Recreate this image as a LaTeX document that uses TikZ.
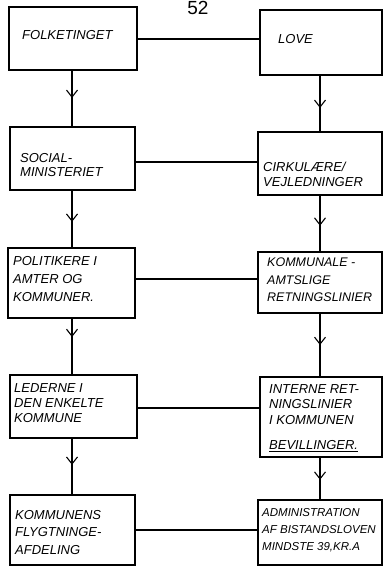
\documentclass[tikz,border=0pt]{standalone}
\usepackage{fontspec}
\setmainfont{Liberation Sans}
\usetikzlibrary{arrows.meta,decorations.markings}
\begin{document}
\begin{tikzpicture}[x=1pt,y=-1pt,
  box/.style={draw,line width=1.4pt,inner sep=0pt},
  link/.style={line width=1.1pt},
  flow/.style={line width=1.3pt,postaction={decorate},
    decoration={markings,mark=at position #1 with {\arrow{Straight Barb[length=7pt,width=11pt,line width=1.1pt]}}}},
  flow/.default=0.5,
  txt/.style={anchor=north west,align=left,inner sep=0pt,
    font=\fontsize{13}{#1}\selectfont\itshape},
  txt/.default=15pt]
\useasboundingbox (0,0) rectangle (387,567);
\node[font=\fontsize{19}{19}\selectfont,anchor=base,inner sep=0pt] (pg) at (198,14.5) {52};
% left column
\node[box,minimum width=128pt,minimum height=63pt] (f1) at (73,38.5) {};
\node[box,minimum width=125pt,minimum height=63pt] (f2) at (72.5,158.5) {};
\node[box,minimum width=127pt,minimum height=70pt] (f3) at (71.5,283) {};
\node[box,minimum width=127pt,minimum height=63pt] (f4) at (73.5,406.5) {};
\node[box,minimum width=125pt,minimum height=70pt] (f5) at (72.5,530) {};
% right column
\node[box,minimum width=122pt,minimum height=65pt] (r1) at (321,42.5) {};
\node[box,minimum width=124pt,minimum height=63pt] (r2) at (320,163.5) {};
\node[box,minimum width=124pt,minimum height=61pt] (r3) at (320,282.5) {};
\node[box,minimum width=122pt,minimum height=80pt] (r4) at (321,417) {};
\node[box,minimum width=124pt,minimum height=65pt] (r5) at (320,532.5) {};
% texts
\node[txt] (t1) at (22,30) {FOLKETINGET};
\node[txt=14.5pt] (t2) at (20,153) {SOCIAL-\\MINISTERIET};
\node[txt=18pt] (t3) at (13,256) {POLITIKERE I\\AMTER OG\\KOMMUNER.};
\node[txt=15pt] (t4) at (14,383) {LEDERNE I\\DEN ENKELTE\\KOMMUNE};
\node[txt=17.5pt] (t5) at (15,510) {KOMMUNENS\\FLYGTNINGE-\\AFDELING};
\node[txt] (u1) at (278,34) {LOVE};
\node[txt] (u2) at (263,162) {CIRKULÆRE/\\VEJLEDNINGER};
\node[txt=17.5pt,font=\fontsize{12.5}{17.5}\selectfont\itshape] (u3) at (267,258) {KOMMUNALE -\\AMTSLIGE\\RETNINGSLINIER};
\node[txt=15.5pt] (u4) at (269,384) {INTERNE RET-\\NINGSLINIER\\I KOMMUNEN\\[10pt]\underline{BEVILLINGER.}};
\node[txt=17pt,font=\fontsize{11.5}{17}\selectfont\itshape] (u5) at (262,508) {ADMINISTRATION\\AF BISTANDSLOVEN\\MINDSTE 39,KR.A};
% horizontal links
\draw[link] (f1.east |- 0,39) -- (r1.west |- 0,39);
\draw[link] (f2.east |- 0,162) -- (r2.west |- 0,162);
\draw[link] (f3.east |- 0,279) -- (r3.west |- 0,279);
\draw[link] (f4.east |- 0,408) -- (r4.west |- 0,408);
\draw[link] (f5.east |- 0,530) -- (r5.west |- 0,530);
% vertical flows
\draw[flow=0.49] (f1.south -| 72,0) -- (f2.north -| 72,0);
\draw[flow=0.55] (f2.south -| 72,0) -- (f3.north -| 72,0);
\draw[flow=0.33] (f3.south -| 72,0) -- (f4.north -| 72,0);
\draw[flow=0.47] (f4.south -| 72,0) -- (f5.north -| 72,0);
\draw[flow=0.58] (r1.south -| 320,0) -- (r2.north -| 320,0);
\draw[flow=0.54] (r2.south -| 320,0) -- (r3.north -| 320,0);
\draw[flow=0.5] (r3.south -| 320,0) -- (r4.north -| 320,0);
\draw[flow=0.53] (r4.south -| 320,0) -- (r5.north -| 320,0);
\end{tikzpicture}
\end{document}
